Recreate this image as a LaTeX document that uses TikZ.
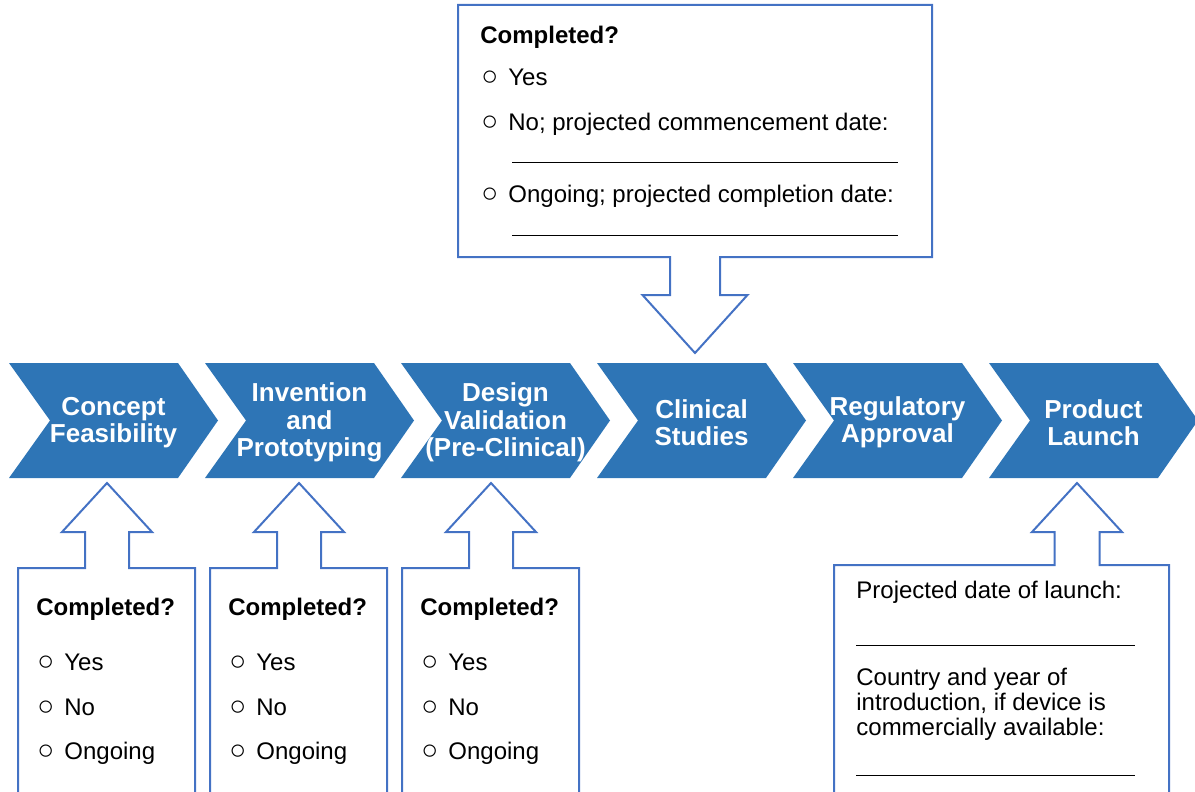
\documentclass[tikz,border=0pt]{standalone}
\usepackage{fontspec}
\setmainfont{Liberation Sans}

\definecolor{stepblue}{RGB}{46,117,182}
\definecolor{callblue}{RGB}{68,114,196}
\newcommand{\opt}{\makebox[14pt][l]{\hspace{0.5pt}{\fontsize{14}{14}\selectfont ○}}}

\begin{document}
\begin{tikzpicture}[
    x=0.5pt, y=-0.5pt,
    chevron/.style={fill=stepblue},
    steplabel/.style={text=white, align=center, inner sep=0pt, font=\fontsize{13}{13.75}\selectfont\bfseries},
    callout/.style={draw=callblue, line width=1pt, line join=miter},
    entry/.style={anchor=base west, inner sep=0pt, font=\fontsize{12}{12.5}\selectfont},
    heading/.style={entry, font=\fontsize{12}{12.5}\selectfont\bfseries},
    blank/.style={draw=black, line width=0.5pt},
  ]
  \useasboundingbox (0,0) rectangle (1195,792);

  % process steps
  \foreach \i/\name/\txt in {0/feas/{Concept\\Feasibility}, 1/proto/{Invention\\and\\Prototyping},
      2/design/{Design\\Validation\\(Pre-Clinical)}, 3/clin/{Clinical\\Studies},
      4/reg/{Regulatory\\Approval}, 5/launch/{Product\\Launch}} {
    \pgfmathsetmacro{\xs}{9+196*\i}
    \fill[chevron] (\xs,363) -- ++(169,0) -- ++(40,57.5) -- ++(-40,57.5) -- ++(-169,0) -- ++(41,-57.5) -- cycle;
    \node (\name) [steplabel] at (\xs+104.5,422.5) {\txt};
  }

  % callouts below the first three steps
  \foreach \i/\name in {0/feas, 1/proto, 2/design} {
    \pgfmathsetmacro{\xb}{18+192*\i}
    \pgfmathsetmacro{\xa}{\xb+89}
    \draw[callout] (\xb,800) -- (\xb,568) -- (\xa-22,568) -- (\xa-22,532) -- (\xa-45,532) -- (\xa,483)
      -- (\xa+45,532) -- (\xa+22,532) -- (\xa+22,568) -- (\xb+177,568) -- (\xb+177,800);
    \node (\name-head) [heading] at (\xb+18,615.6) {Completed?};
    \node (\name-yes) [entry] at (\xb+18,670.6) {\opt Yes};
    \node (\name-no) [entry] at (\xb+18,715.6) {\opt No};
    \node (\name-on) [entry] at (\xb+18,759.6) {\opt Ongoing};
  }

  % callout above clinical studies
  \draw[callout] (458,5) -- (932,5) -- (932,257) -- (720,257) -- (720,295) -- (747.5,295) -- (695,353)
    -- (642.5,295) -- (670,295) -- (670,257) -- (458,257) -- cycle;
  \node (clin-head) [heading] at (480,43.6) {Completed?};
  \node (clin-yes) [entry] at (480,85.6) {\opt Yes};
  \node (clin-no) [entry] at (480,130.6) {\opt No; projected commencement date:};
  \draw[blank] (512,163) -- (898,163);
  \node (clin-on) [entry] at (480,202.6) {\opt Ongoing; projected completion date:};
  \draw[blank] (512,235) -- (898,235);

  % callout below product launch
  \draw[callout] (834,800) -- (834,565) -- (1054.5,565) -- (1054.5,532) -- (1032,532) -- (1077,483)
    -- (1122,532) -- (1099.5,532) -- (1099.5,565) -- (1169,565) -- (1169,800);
  \node (launch-date) [entry] at (856,598.6) {Projected date of launch:};
  \draw[blank] (856,645) -- (1135,645);
  \node (launch-country) [entry, anchor=north west, align=left] at (856,668)
    {Country and year of\\introduction, if device is\\commercially available:};
  \draw[blank] (856,775) -- (1135,775);
\end{tikzpicture}
\end{document}
